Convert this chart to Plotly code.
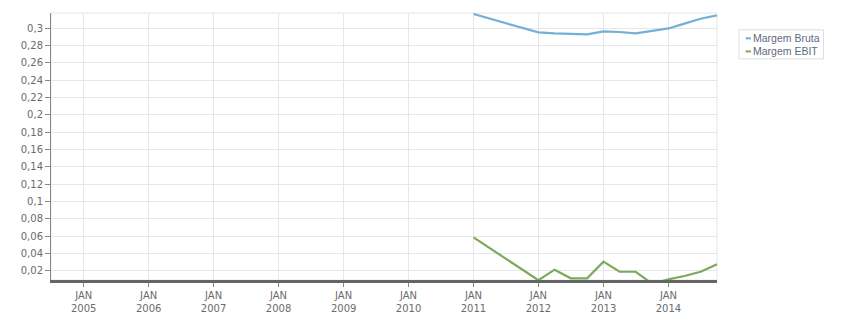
import plotly.graph_objects as go

dates = ["2011-01-01", "2012-01-01", "2012-04-01", "2012-07-01", "2012-10-01",
         "2013-01-01", "2013-04-01", "2013-07-01", "2013-10-01",
         "2014-01-01", "2014-04-01", "2014-07-01", "2014-10-01"]
margem_bruta = [0.3162, 0.2949, 0.2938, 0.2931, 0.2926, 0.2961, 0.2954, 0.2938,
                0.2967, 0.2995, 0.3050, 0.3107, 0.3145]
margem_ebit = [0.0585, 0.0090, 0.0212, 0.0112, 0.0112, 0.0304, 0.0188, 0.0188,
               0.0050, 0.0100, 0.0139, 0.0188, 0.0274]

tick_dates = ["2005-01-01", "2006-01-01", "2007-01-01", "2008-01-01", "2009-01-01",
              "2010-01-01", "2011-01-01", "2012-01-01", "2013-01-01", "2014-01-01"]
tick_labels = ["JAN<br>2005", "JAN<br>2006", "JAN<br>2007", "JAN<br>2008", "JAN<br>2009",
               "JAN<br>2010", "JAN<br>2011", "JAN<br>2012", "JAN<br>2013", "JAN<br>2014"]

series_names = ["Margem Bruta", "Margem EBIT"]
colors = ["#74afd6", "#7caa5c"]

FONT = "DejaVu Sans"
TXT = "#6b6b6b"

fig = go.Figure()
fig.add_trace(go.Scatter(x=dates, y=margem_bruta, mode="lines", name=series_names[0],
                         line=dict(color=colors[0], width=2.2)))
fig.add_trace(go.Scatter(x=dates, y=margem_ebit, mode="lines", name=series_names[1],
                         line=dict(color=colors[1], width=2.2)))

# manual legend box
fig.add_shape(type="rect", xref="paper", yref="paper", x0=1.033, x1=1.160, y0=0.828, y1=0.937,
              line=dict(color="#dddddd", width=1), fillcolor="white")
# plot frame (top/right light border)
fig.add_shape(type="rect", xref="paper", yref="paper", x0=0, x1=1, y0=0, y1=1,
              line=dict(color="#e6e6e6", width=1), layer="below")
for i, (nm, c) in enumerate(zip(series_names, colors)):
    yy = 0.905 - i * 0.049
    fig.add_shape(type="line", xref="paper", yref="paper", x0=1.043, x1=1.051, y0=yy, y1=yy,
                  line=dict(color=c, width=2))
    fig.add_annotation(xref="paper", yref="paper", x=1.051, y=yy, text=nm, showarrow=False,
                       xanchor="left", yanchor="middle",
                       font=dict(family="Liberation Sans", size=10.5, color="#5f6a84"))

fig.update_layout(
    width=851, height=313,
    margin=dict(l=51, r=134, t=13, b=33),
    plot_bgcolor="white", paper_bgcolor="white",
    separators=",.",
    showlegend=False,
    font=dict(family=FONT, size=10, color=TXT),
)
fig.update_xaxes(
    type="date", range=["2004-07-01", "2014-10-01"],
    tickvals=tick_dates, ticktext=tick_labels,
    showgrid=True, gridcolor="#e6e6e6", gridwidth=1,
    showline=True, linecolor="#666666", linewidth=3,
    ticks="outside", ticklen=4, tickcolor="#888888",
    tickfont=dict(family=FONT, size=10, color=TXT),
    zeroline=False, automargin=False,
)
fig.update_yaxes(
    range=[0.00927, 0.3173], tick0=0, dtick=0.02,
    showgrid=True, gridcolor="#e6e6e6", gridwidth=1,
    showline=True, linecolor="#888888", linewidth=1,
    ticks="outside", ticklen=5, tickcolor="#888888",
    tickfont=dict(family=FONT, size=10, color=TXT),
    zeroline=False, automargin=False,
)

fig.write_html("out.html")
